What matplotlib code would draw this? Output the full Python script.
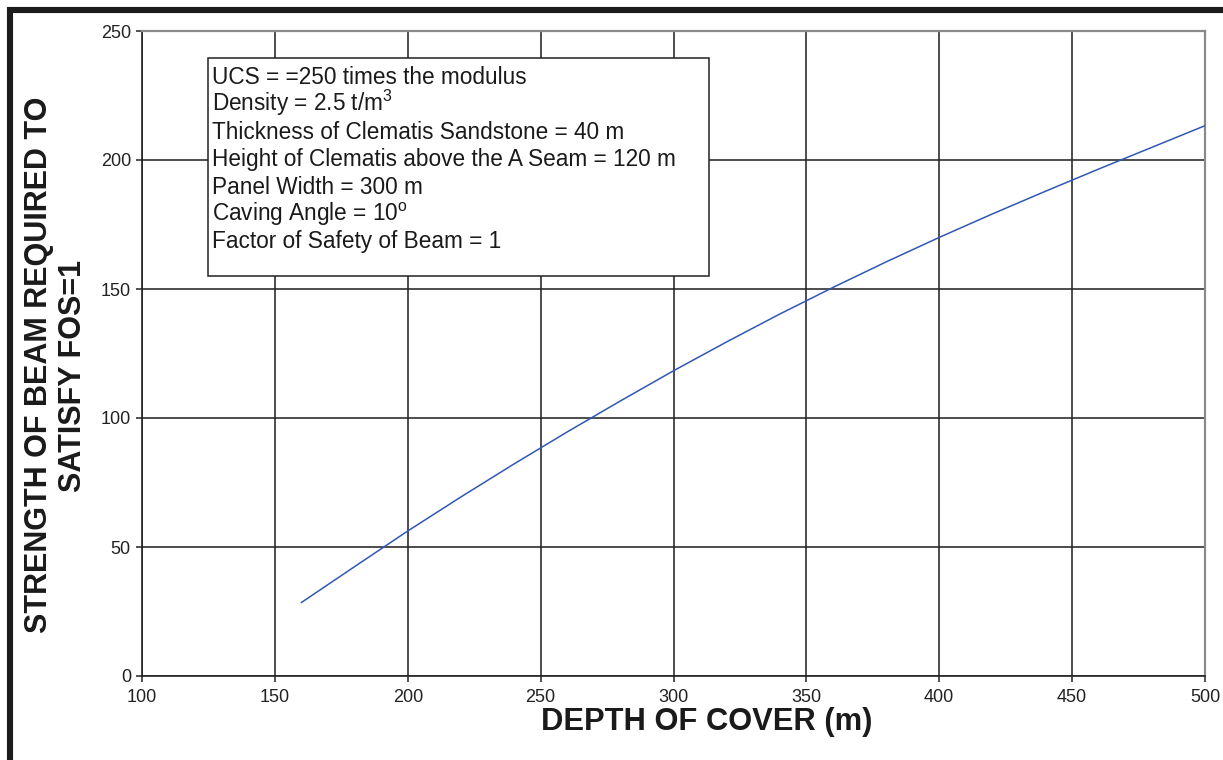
import matplotlib
matplotlib.use("Agg")
import matplotlib.pyplot as plt
from matplotlib.lines import Line2D
from matplotlib.patches import Rectangle

plt.rcParams["font.family"] = ["Liberation Sans", "DejaVu Sans"]
plt.rcParams["mathtext.default"] = "regular"

# Depth of cover (m) and required beam strength
depth = [160, 180, 200, 220, 240, 260, 280, 300, 320, 340, 360, 380,
         400, 420, 440, 460, 480, 500]
strength = [28.5, 42.4, 56.2, 69.4, 82.2, 94.6, 106.6, 118.3, 129.5, 140.3,
            150.6, 160.5, 170.0, 179.1, 187.9, 196.5, 204.9, 213.3]

x_ticks = [100, 150, 200, 250, 300, 350, 400, 450, 500]
y_ticks = [0, 50, 100, 150, 200, 250]

notes = [
    "UCS = =250 times the modulus",
    "Density = 2.5 t/m$^3$",
    "Thickness of Clematis Sandstone = 40 m",
    "Height of Clematis above the A Seam = 120 m",
    "Panel Width = 300 m",
    "Caving Angle = 10$^o$",
    "Factor of Safety of Beam = 1",
]

W, H = 1223, 760
fig = plt.figure(figsize=(W / 100, H / 100), dpi=100)
fig.patch.set_facecolor("white")

x0, x1, ytop, ybot = 142, 1205, 31, 676
ax = fig.add_axes([x0 / W, 1 - ybot / H, (x1 - x0) / W, (ybot - ytop) / H])

ax.set_xlim(100, 500)
ax.set_ylim(0, 250)
ax.set_xticks(x_ticks)
ax.set_yticks(y_ticks)

ax.grid(True, color="#262626", linewidth=1.15)
ax.set_axisbelow(True)

ax.plot(depth, strength, color="#2f58b5", linewidth=1.1, zorder=3)

for side in ("left", "bottom"):
    ax.spines[side].set_color("#222222")
    ax.spines[side].set_linewidth(1.2)
for side in ("top", "right"):
    ax.spines[side].set_color("#8a8a8a")
    ax.spines[side].set_linewidth(1.6)

ax.tick_params(axis="both", direction="out", length=4, width=1.1,
               color="#222222", labelsize=13, labelcolor="#222222")
ax.tick_params(axis="x", pad=5)
ax.tick_params(axis="y", pad=4)

# Parameter box
px = lambda p: (p - x0) / (x1 - x0)
py = lambda p: (ybot - p) / (ybot - ytop)
bx0, bx1, by0, by1 = 208, 709, 58, 276
ax.add_patch(Rectangle((px(bx0), py(by1)), px(bx1) - px(bx0), py(by0) - py(by1),
                       transform=ax.transAxes, facecolor="white",
                       edgecolor="#222222", linewidth=1.1, zorder=4))
for i, line in enumerate(notes):
    ax.text(px(212), py(84 + i * 27.4), line, transform=ax.transAxes,
            ha="left", va="baseline", fontsize=16.3, color="#1a1a1a", zorder=5)

# Axis titles
fig.text(707 / W, 1 - 722 / H, "DEPTH OF COVER (m)",
         ha="center", va="center", fontsize=22.2, fontweight="bold",
         color="#1a1a1a")
fig.text(39 / W, 1 - 365 / H, "STRENGTH OF BEAM REQUIRED TO",
         ha="center", va="center", rotation=90, fontsize=22,
         fontweight="bold", color="#1a1a1a")
fig.text(73 / W, 1 - 376 / H, "SATISFY FOS=1",
         ha="center", va="center", rotation=90, fontsize=22,
         fontweight="bold", color="#1a1a1a")

# Heavy outer frame on top and left
fig.add_artist(Line2D([7 / W, 1], [1 - 10 / H, 1 - 10 / H], color="#1c1c1c",
                      linewidth=4.4, transform=fig.transFigure,
                      solid_capstyle="butt"))
fig.add_artist(Line2D([10 / W, 10 / W], [0, 1 - 7 / H], color="#1c1c1c",
                      linewidth=4.4, transform=fig.transFigure,
                      solid_capstyle="butt"))

fig.savefig("out.png", dpi=100, facecolor="white")
